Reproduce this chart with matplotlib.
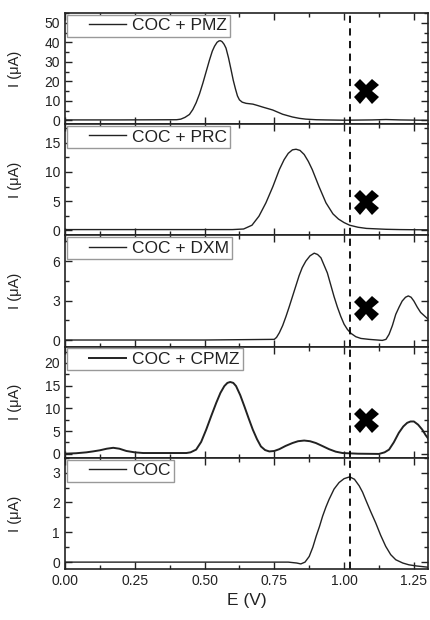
import matplotlib.pyplot as plt
from matplotlib.ticker import MultipleLocator
from matplotlib.legend_handler import HandlerLine2D

plt.rcParams['font.family'] = ['Liberation Sans', 'DejaVu Sans']

# COC + PMZ
e_pmz = [0.0, 0.2, 0.40, 0.415, 0.43, 0.446, 0.458, 0.470, 0.482, 0.494, 0.506, 0.518,
         0.528, 0.536, 0.545, 0.552, 0.557, 0.563, 0.570, 0.577, 0.586, 0.595, 0.603,
         0.611, 0.618, 0.625, 0.635, 0.649, 0.673, 0.69, 0.708, 0.744, 0.78, 0.815,
         0.84, 0.863, 0.9, 0.935, 1.0, 1.1, 1.15, 1.2, 1.3]
i_pmz = [0.2, 0.2, 0.3, 0.6, 1.5, 3.0, 5.5, 9.0, 13.5, 19.0, 25.0, 31.0,
         35.5, 38.0, 40.0, 40.7, 40.8, 40.3, 39.0, 37.0, 32.0, 26.0, 20.5,
         16.0, 12.5, 10.5, 9.3, 8.7, 8.3, 7.6, 6.8, 5.3, 3.1, 1.7,
         1.0, 0.6, 0.3, 0.2, 0.05, 0.2, 0.4, 0.2, 0.0]

# COC + PRC
e_prc = [0.0, 0.3, 0.6, 0.64, 0.67, 0.695, 0.72, 0.745, 0.768, 0.785, 0.80, 0.815,
         0.828, 0.842, 0.857, 0.872, 0.886, 0.91, 0.935, 0.96, 0.98, 1.0, 1.02,
         1.05, 1.08, 1.15, 1.2, 1.3]
i_prc = [0.1, 0.1, 0.1, 0.2, 0.85, 2.4, 4.7, 7.5, 10.4, 12.1, 13.2, 13.8,
         13.9, 13.7, 13.0, 11.8, 10.4, 7.5, 4.7, 2.8, 1.9, 1.3, 0.85,
         0.5, 0.3, 0.15, 0.1, 0.05]

# COC + DXM
e_dxm = [0.0, 0.5, 0.75, 0.758, 0.768, 0.78, 0.792, 0.803, 0.815, 0.827, 0.839, 0.85,
         0.863, 0.878, 0.893, 0.905, 0.917, 0.94, 0.952, 0.964, 0.976, 0.988, 1.0,
         1.012, 1.025, 1.042, 1.06, 1.089, 1.137, 1.15, 1.161, 1.173, 1.185, 1.197,
         1.208, 1.22, 1.23, 1.24, 1.25, 1.262, 1.274, 1.287, 1.3]
i_dxm = [0.0, 0.0, 0.05, 0.2, 0.55, 1.1, 1.8, 2.5, 3.3, 4.1, 4.9, 5.5,
         6.0, 6.4, 6.6, 6.5, 6.25, 5.1, 4.2, 3.3, 2.5, 1.8, 1.2,
         0.8, 0.5, 0.25, 0.12, 0.05, -0.03, 0.05, 0.43, 1.1, 1.95, 2.5,
         2.96, 3.25, 3.35, 3.25, 2.96, 2.5, 2.1, 1.85, 1.6]

# COC + CPMZ
e_cpmz = [0.0, 0.04, 0.077, 0.1, 0.125, 0.15, 0.173, 0.195, 0.22, 0.25, 0.28, 0.435,
          0.45, 0.47, 0.488, 0.506, 0.524, 0.542, 0.557, 0.571, 0.582, 0.592, 0.603,
          0.613, 0.628, 0.643, 0.658, 0.673, 0.688, 0.702, 0.717, 0.732, 0.75, 0.768,
          0.79, 0.815, 0.835, 0.857, 0.878, 0.899, 0.922, 0.946, 0.97, 0.994, 1.05,
          1.125, 1.145, 1.161, 1.178, 1.196, 1.212, 1.226, 1.238, 1.25, 1.265, 1.28,
          1.292, 1.304]
i_cpmz = [0.0, 0.1, 0.3, 0.5, 0.75, 1.1, 1.3, 1.1, 0.6, 0.3, 0.15, 0.15,
          0.3, 0.9, 2.6, 5.3, 8.3, 11.2, 13.4, 14.9, 15.6, 15.8, 15.6,
          14.9, 12.9, 10.4, 7.8, 5.3, 3.2, 1.6, 0.8, 0.5, 0.6, 1.0,
          1.7, 2.35, 2.75, 2.9, 2.75, 2.35, 1.7, 1.0, 0.45, 0.15, 0.0,
          -0.05, 0.3, 0.9, 2.5, 4.6, 6.0, 6.8, 7.1, 7.1, 6.4, 5.3,
          4.1, 3.1]

# COC
e_coc = [0.0, 0.5, 0.8, 0.83, 0.845, 0.86, 0.875, 0.888, 0.90, 0.912, 0.923, 0.935,
         0.946, 0.964, 0.982, 1.0, 1.02, 1.037, 1.054, 1.066, 1.077, 1.095, 1.113,
         1.131, 1.149, 1.167, 1.185, 1.21, 1.232, 1.26, 1.3]
i_coc = [0.0, 0.0, 0.0, -0.03, -0.06, 0.0, 0.19, 0.5, 0.87, 1.2, 1.54, 1.85,
         2.1, 2.45, 2.67, 2.8, 2.86, 2.78, 2.56, 2.35, 2.1, 1.7, 1.32,
         0.9, 0.53, 0.25, 0.08, -0.03, -0.09, -0.13, -0.17]

labels = ['COC + PMZ', 'COC + PRC', 'COC + DXM', 'COC + CPMZ', 'COC']
xs = [e_pmz, e_prc, e_dxm, e_cpmz, e_coc]
ys = [i_pmz, i_prc, i_dxm, i_cpmz, i_coc]
ylims = [(-2, 55), (-0.9, 18.2), (-0.5, 7.95), (-0.9, 23.6), (-0.23, 3.5)]
major = [10, 5, 3, 5, 1]
minor = [5, 2.5, 1.5, 2.5, 0.5]
widths = [1.0, 1.0, 1.0, 1.4, 1.0]

# cross positions (no cross on bare COC panel)
cross_e = [1.078, 1.078, 1.078, 1.078]
cross_i = [15.0, 4.8, 2.4, 7.35]

ink = '#222222'
fig, axes = plt.subplots(5, 1, figsize=(4.3, 6.2), dpi=100, sharex=True)
fig.subplots_adjust(left=0.151, right=0.995, bottom=0.0823, top=0.979, hspace=0)

for k, ax in enumerate(axes):
    ax.plot(xs[k], ys[k], color=ink, lw=widths[k], label=labels[k])
    ax.axvline(1.02, color='black', ls=(0, (4, 3)), lw=1.3)
    if k < 4:
        ax.plot(cross_e[k], cross_i[k], marker='X', color='black', ms=18, mew=0)
    ax.set_xlim(0, 1.30)
    ax.set_ylim(*ylims[k])
    ax.yaxis.set_major_locator(MultipleLocator(major[k]))
    ax.yaxis.set_minor_locator(MultipleLocator(minor[k]))
    ax.xaxis.set_major_locator(MultipleLocator(0.25))
    ax.xaxis.set_minor_locator(MultipleLocator(0.125))
    ax.tick_params(which='both', direction='in', top=True, right=True,
                   labelsize=10, colors=ink, width=1.0)
    ax.tick_params(which='major', length=5)
    ax.tick_params(which='minor', length=3)
    for s in ax.spines.values():
        s.set_linewidth(1.2)
        s.set_color(ink)
    ax.set_ylabel('I (μA)', fontsize=10.5, color=ink)
    ax.yaxis.set_label_coords(-0.118, 0.5)
    # Origin-style legend: blank gap before the sample line
    leg = ax.legend(loc='upper left', fontsize=12.5, handlelength=3.2, borderpad=0.2,
                    borderaxespad=0.1, fancybox=False, framealpha=1,
                    edgecolor='#999999', handletextpad=0.35,
                    handler_map={plt.Line2D: HandlerLine2D(xpad=1.1)})
    leg.get_frame().set_linewidth(1.0)
    for t in leg.get_texts():
        t.set_color(ink)

axes[-1].xaxis.set_major_formatter(plt.FuncFormatter(lambda v, p: '%.2f' % v))
axes[-1].set_xlabel('E (V)', fontsize=12.5, color=ink)

plt.savefig('out.png', dpi=100)
plt.close()
